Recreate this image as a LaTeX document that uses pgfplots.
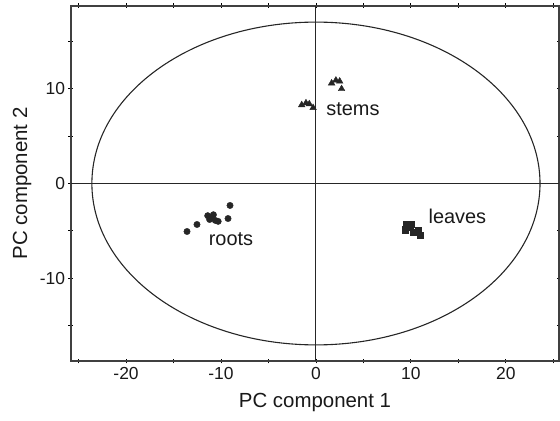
\documentclass[border=0pt]{standalone}
\usepackage{fontspec}
\setmainfont{Liberation Sans}
\usepackage{pgfplots}
\pgfplotsset{compat=1.18}
\begin{document}
\begin{tikzpicture}
\begin{axis}[
  name=ax,
  scale only axis,
  width=488bp, height=355bp,
  xmin=-25.8, xmax=25.6,
  ymin=-18.75, ymax=18.75,
  xtick={-20,-10,0,10,20},
  ytick={-10,0,10},
  minor xtick={-25,-15,-5,5,15,25},
  minor ytick={-15,-5,5,15},
  tick align=center,
  major tick length=5bp,
  minor tick length=5bp,
  tick style={black, line width=0.9pt},
  axis line style={black!75, line width=1.1pt},
  /pgf/number format/assume math mode=true,
  ticklabel style={font=\fontsize{17.5}{20}\selectfont, text=black!90},
  xlabel={PC component 1},
  ylabel={PC component 2},
  label style={font=\fontsize{20.5}{24}\selectfont, text=black!90},
  xlabel style={at={(axis description cs:0.5,-0.118)}, anchor=center},
  ylabel style={at={(axis description cs:-0.1004,0.5)}, anchor=center},
  clip=false,
]
\draw[black!85, line width=1.1pt] (axis cs:-25.8,0) -- (axis cs:25.6,0);
\draw[black!85, line width=1.1pt] (axis cs:0,-18.75) -- (axis cs:0,18.75);
\draw[black!85, line width=1.1pt] (axis cs:0,0) ellipse [x radius=23.6, y radius=17.05];
\addplot[only marks, mark=*, mark size=3.2bp, black!85] coordinates {
(-9.05,-2.32) (-13.58,-5.07) (-12.53,-4.33) (-9.26,-3.70)
(-11.4,-3.4) (-11.0,-3.6) (-10.6,-3.9) (-10.3,-4.0) (-11.2,-3.8) (-10.8,-3.3)
};
\addplot[only marks, mark=triangle*, mark size=3.8bp, black!85] coordinates {
(1.65,10.6) (2.1,10.9) (2.5,10.8) (2.7,10.0)
(-1.5,8.3) (-1.05,8.5) (-0.7,8.4) (-0.3,8.0)
};
\addplot[only marks, mark=square*, mark size=3.1bp, black!85] coordinates {
(9.55,-4.26) (9.37,-4.89) (9.89,-4.61) (10.24,-5.14) (10.77,-4.96) (11.02,-5.49) (10.07,-4.26)
};
\node[font=\fontsize{20}{24}\selectfont, text=black!90] at (axis cs:-8.95,-5.9) {roots};
\node[font=\fontsize{20}{24}\selectfont, text=black!90] at (axis cs:3.9,7.9) {stems};
\node[font=\fontsize{20}{24}\selectfont, text=black!90] at (axis cs:14.9,-3.5) {leaves};
\end{axis}
\pgfresetboundingbox
\path (ax.south west) ++(-71bp,-60bp) coordinate (bl);
\path (ax.north east) ++(1bp,6bp) coordinate (tr);
\path[use as bounding box] (bl) rectangle (tr);
\end{tikzpicture}
\end{document}
